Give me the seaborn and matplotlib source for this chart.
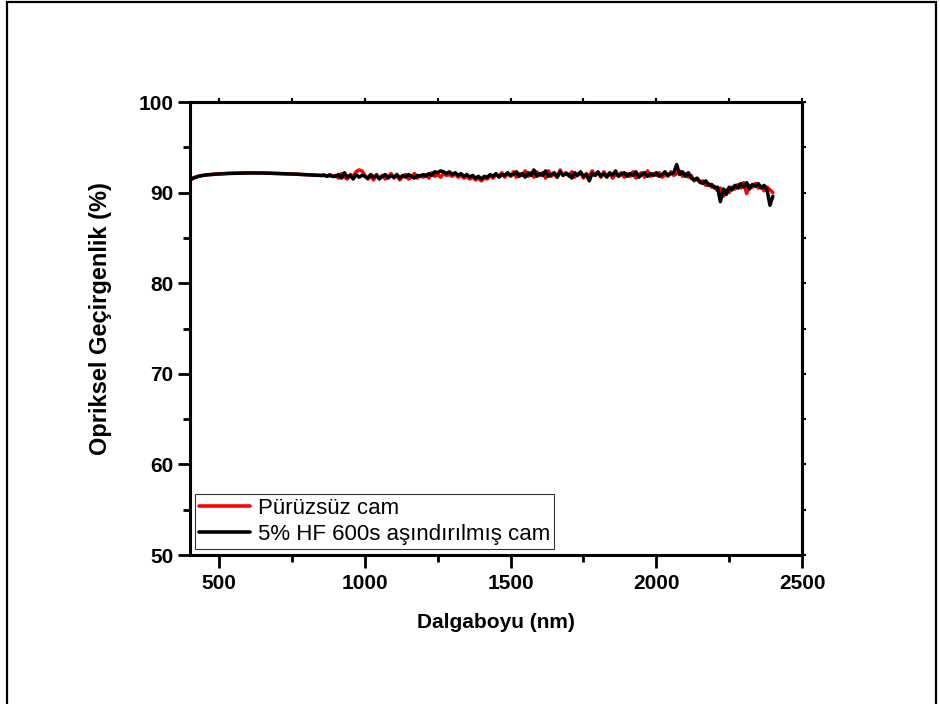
import numpy as np
import pandas as pd
import matplotlib
matplotlib.use("Agg")
import matplotlib.pyplot as plt
from matplotlib.patches import Rectangle
import seaborn as sns

# ---------------- data ----------------
wavelengths = np.arange(400, 2401, 10)

smooth_part = [
    91.40, 91.60, 91.72, 91.82, 91.88, 91.93, 91.97, 92.00, 92.03, 92.05,
    92.07, 92.09, 92.10, 92.12, 92.13, 92.14, 92.15, 92.16, 92.17, 92.17,
    92.18, 92.18, 92.18, 92.18, 92.17, 92.17, 92.16, 92.16, 92.15, 92.14,
    92.13, 92.12, 92.11, 92.10, 92.08, 92.07, 92.05, 92.03, 92.02, 92.00,
    91.98, 91.97, 91.95, 91.93, 91.92, 91.90, 91.88, 91.86, 91.84, 91.82,
]

red_noisy = [
    91.9, 91.6, 92.1, 91.7, 91.5, 92.0, 91.8, 92.3, 92.5, 92.4,
    91.9, 91.5, 91.8, 91.4, 92.0, 91.6, 91.9, 91.5, 91.8, 92.1,
    91.6, 91.9, 91.4, 91.8, 92.0, 91.5, 91.7, 92.1, 91.6, 91.9,
    91.7, 92.0, 91.6, 92.2, 91.8, 92.0, 91.7, 92.1, 91.9, 92.0,
    91.8, 92.1, 91.7, 91.9, 91.6, 91.8, 91.5, 91.7, 91.4, 91.6,
    91.3, 91.6, 91.5, 91.9, 91.6, 92.0, 91.8, 92.2, 91.7, 92.1,
    91.8, 92.3, 91.7, 92.1, 91.9, 92.4, 91.8, 92.2, 91.7, 92.3,
    91.9, 92.2, 91.6, 92.4, 91.8, 92.1, 91.7, 92.5, 91.9, 92.2,
    91.8, 92.3, 91.7, 92.0, 92.2, 91.6, 92.1, 91.8, 92.4, 91.9,
    92.2, 91.7, 92.3, 91.8, 92.1, 91.6, 92.0, 91.9, 92.2, 91.7,
    92.1, 91.8, 92.3, 91.6, 92.0, 92.2, 91.7, 92.4, 91.8, 92.1,
    91.9, 92.2, 91.7, 92.0, 91.8, 92.3, 91.9, 92.1, 92.4, 91.8,
    92.1, 91.7, 91.9, 91.3, 91.5, 91.1, 91.3, 90.8, 91.0, 90.6,
    90.7, 90.2, 90.5, 89.6, 90.3, 90.0, 90.6, 90.4, 90.9, 90.5,
    91.1, 89.9, 90.8, 90.6, 91.0, 90.5, 90.7, 90.2, 90.6, 90.3,
    90.0,
]

black_smooth_part = [
    91.38, 91.58, 91.70, 91.80, 91.87, 91.92, 91.96, 91.99, 92.02, 92.04,
    92.06, 92.08, 92.10, 92.11, 92.12, 92.13, 92.14, 92.15, 92.16, 92.16,
    92.17, 92.17, 92.17, 92.17, 92.16, 92.16, 92.15, 92.15, 92.14, 92.13,
    92.12, 92.11, 92.10, 92.09, 92.07, 92.06, 92.04, 92.02, 92.01, 91.99,
    91.97, 91.96, 91.94, 91.92, 91.91, 91.89, 91.95, 91.80, 91.98, 91.78,
]

black_noisy = [
    91.8, 92.0, 91.6, 92.2, 91.7, 91.9, 91.5, 92.0, 91.7, 91.9,
    91.8, 91.6, 92.0, 91.7, 91.9, 91.5, 91.8, 92.0, 91.6, 91.9,
    91.7, 92.0, 91.6, 91.9, 91.7, 92.0, 91.8, 91.6, 91.9, 91.8,
    92.0, 91.8, 92.1, 91.9, 92.3, 92.2, 92.4, 92.3, 92.1, 92.3,
    92.0, 92.2, 91.9, 92.1, 91.8, 92.0, 91.7, 91.9, 91.6, 91.8,
    91.5, 91.8, 91.7, 92.0, 91.8, 92.1, 91.7, 92.0, 91.9, 92.2,
    91.9, 92.0, 92.3, 91.8, 92.1, 91.7, 92.2, 91.9, 92.5, 91.8,
    92.1, 91.9, 92.4, 91.8, 92.0, 92.2, 91.7, 92.3, 91.9, 92.1,
    92.0, 91.6, 92.2, 91.9, 92.3, 91.8, 92.0, 91.3, 92.1, 91.9,
    92.3, 91.8, 92.1, 91.7, 92.2, 91.9, 92.4, 91.8, 92.0, 92.2,
    91.8, 92.1, 91.9, 92.3, 91.7, 92.0, 92.2, 91.8, 92.1, 91.9,
    92.2, 91.8, 92.0, 92.3, 91.9, 92.1, 92.2, 93.1, 92.0, 92.3,
    91.8, 92.2, 91.6, 91.4, 91.6, 91.2, 91.0, 91.3, 90.8, 90.9,
    90.5, 90.6, 89.0, 90.4, 89.8, 90.6, 90.3, 90.8, 90.5, 91.0,
    90.6, 91.1, 90.4, 90.9, 90.7, 91.0, 90.5, 90.8, 90.3, 88.6,
    89.6,
]

red_values = smooth_part + red_noisy
black_values = black_smooth_part + black_noisy

series_names = ["Pürüzsüz cam", "5% HF 600s aşındırılmış cam"]
series_colors = ["#ff0000", "#000000"]

x_major_ticks = [500, 1000, 1500, 2000, 2500]
x_minor_ticks = [750, 1250, 1750, 2250]
y_major_ticks = [50, 60, 70, 80, 90, 100]
y_minor_ticks = [55, 65, 75, 85, 95]

x_label = "Dalgaboyu (nm)"
y_label = "Opriksel Geçirgenlik (%)"

df = pd.DataFrame({
    "wl": np.concatenate([wavelengths, wavelengths]),
    "T": red_values + black_values,
    "series": [series_names[0]] * len(wavelengths) + [series_names[1]] * len(wavelengths),
})

# ---------------- plot ----------------
sns.set_theme(style="white")
plt.rcParams["font.family"] = ["Liberation Sans", "DejaVu Sans"]
for key in ["text.color", "axes.labelcolor", "xtick.color", "ytick.color",
            "axes.edgecolor"]:
    plt.rcParams[key] = "black"

fig = plt.figure(figsize=(9.4, 7.04), dpi=100)
ax = fig.add_axes([0.2021, 0.2116, 0.6511, 0.6435])

sns.lineplot(data=df, x="wl", y="T", hue="series", hue_order=series_names,
             palette=series_colors, linewidth=2.5, ax=ax, sort=False,
             estimator=None)

ax.set_xlim(400, 2500)
ax.set_ylim(50, 100)
ax.set_xticks(x_major_ticks)
ax.set_xticks(x_minor_ticks, minor=True)
ax.set_yticks(y_major_ticks)
ax.set_yticks(y_minor_ticks, minor=True)
ax.set_xticklabels([str(v) for v in x_major_ticks])
ax.set_yticklabels([str(v) for v in y_major_ticks])

for lab in ax.get_xticklabels() + ax.get_yticklabels():
    lab.set_fontweight("bold")
    lab.set_fontsize(15)
    lab.set_color("black")

ax.tick_params(which="major", direction="out", length=9, width=2,
               color="black", pad=3, bottom=True, left=True)
ax.tick_params(which="minor", direction="out", length=5, width=2,
               color="black", bottom=True, left=True)
ax.tick_params(axis="x", which="major", pad=5)

for sp in ax.spines.values():
    sp.set_linewidth(2.2)
    sp.set_color("black")
    sp.set_visible(True)

sec_x = ax.secondary_xaxis("top")
sec_x.set_xticks(x_major_ticks + x_minor_ticks)
sec_x.tick_params(direction="out", length=3, width=1.5, labeltop=False)
sec_x.spines["top"].set_linewidth(2.2)
sec_y = ax.secondary_yaxis("right")
sec_y.set_yticks(y_major_ticks + y_minor_ticks)
sec_y.tick_params(direction="out", length=3, width=1.5, labelright=False)
sec_y.spines["right"].set_linewidth(2.2)

ax.set_xlabel(x_label, fontsize=15, fontweight="bold", labelpad=14,
              color="black")
ax.set_ylabel(y_label, fontsize=17, fontweight="bold", color="black")
ax.yaxis.set_label_coords(-0.128, 0.523)

leg = ax.legend(loc="lower left", bbox_to_anchor=(0.008, 0.014),
                frameon=True, fancybox=False, fontsize=16,
                handlelength=2.3, handletextpad=0.35, borderpad=0.18,
                labelspacing=0.2, borderaxespad=0.0)
leg.get_frame().set_edgecolor("black")
leg.get_frame().set_linewidth(0.8)
for h, c in zip(leg.get_lines(), series_colors):
    h.set_linewidth(2.6)
    h.set_color(c)
for t in leg.get_texts():
    t.set_color("black")

# outer frame
fig.patches.append(Rectangle((7 / 940, -0.05), (936 - 7) / 940, 1.05 - 2 / 704,
                             transform=fig.transFigure, fill=False,
                             edgecolor="black", linewidth=1.6))

fig.savefig("out.png", dpi=100)
